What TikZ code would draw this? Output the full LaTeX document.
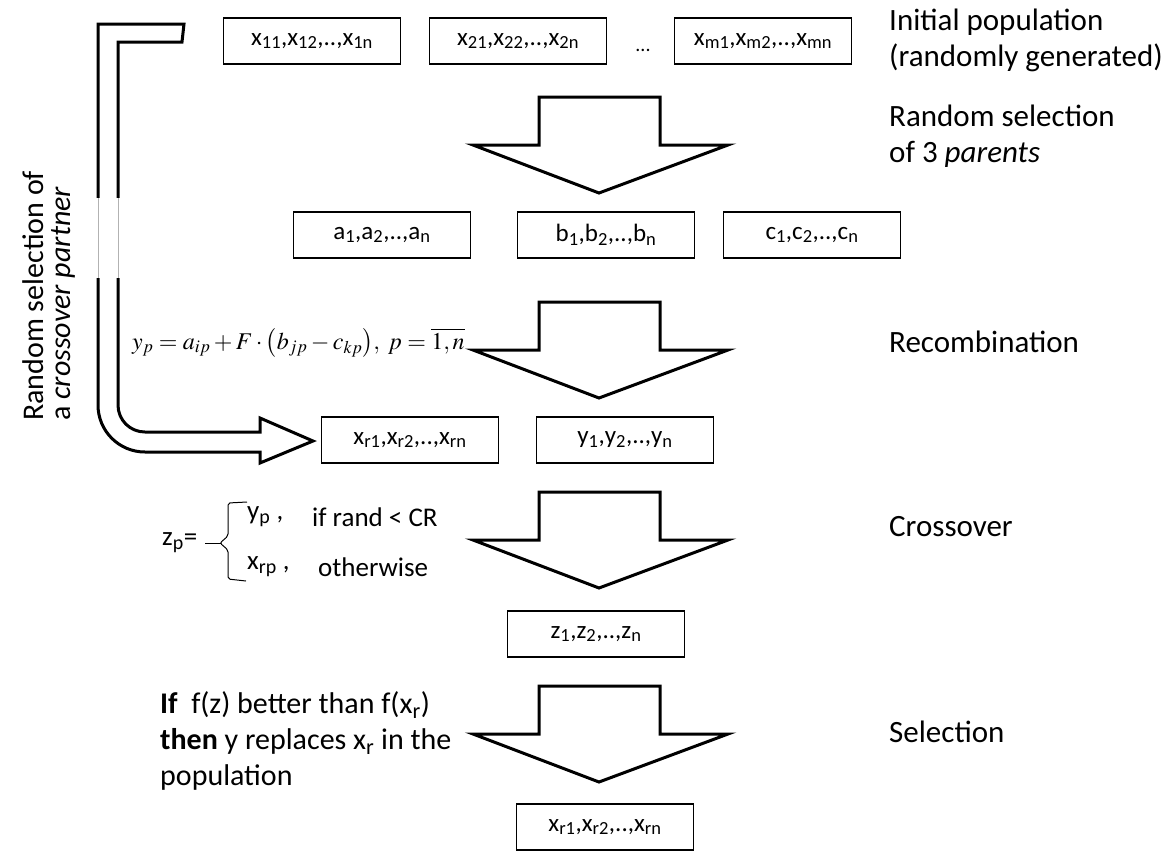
\documentclass[tikz,border=0pt]{standalone}
\usepackage{mathptmx}
\usepackage{fontspec}
\setmainfont{Carlito}
\usetikzlibrary{positioning}
\newcommand{\lo}[1]{\textsubscript{#1}}
\tikzset{
  vecbox/.style={draw, line width=1.5pt, minimum width=177pt, minimum height=46pt,
    inner sep=0pt, font=\fontsize{25}{28}\selectfont},
  steplabel/.style={anchor=west, align=left, inner sep=0pt, font=\fontsize{31}{36}\selectfont},
  sidetext/.style={anchor=west, align=left, inner sep=0pt, font=\fontsize{27}{30}\selectfont},
  bigarrow/.style={draw, line width=3pt, line join=miter, fill=white},
}

\begin{document}
\begin{tikzpicture}[x=1pt, y=-1pt]
    \useasboundingbox (0,0) rectangle (1169,852);
    % population and selected vectors
    \node[vecbox] (x1) at (312,41) {x\lo{11},x\lo{12},..,x\lo{1n}};
    \node[vecbox] (x2) at (518,41) {x\lo{21},x\lo{22},..,x\lo{2n}};
    \node[font=\fontsize{20}{22}\selectfont] (dots) at (643,50) {...};
    \node[vecbox] (xm) at (763,41) {x\lo{m1},x\lo{m2},..,x\lo{mn}};
    \node[vecbox] (a) at (382,235) {a\lo{1},a\lo{2},..,a\lo{n}};
    \node[vecbox] (b) at (606,235) {b\lo{1},b\lo{2},..,b\lo{n}};
    \node[vecbox] (c) at (812,235) {c\lo{1},c\lo{2},..,c\lo{n}};
    \node[vecbox] (xr) at (410,440) {x\lo{r1},x\lo{r2},..,x\lo{rn}};
    \node[vecbox] (y) at (625,440) {y\lo{1},y\lo{2},..,y\lo{n}};
    \node[vecbox] (z) at (596,634) {z\lo{1},z\lo{2},..,z\lo{n}};
    \node[vecbox] (xnew) at (605,827) {x\lo{r1},x\lo{r2},..,x\lo{rn}};

    % block arrows between the stages
    \foreach \t in {97,302,492,686}
        \draw[bigarrow] (539,\t) -- (660,\t) -- (660,\t+48) -- (728,\t+48)
            -- (599,\t+96) -- (473,\t+48) -- (539,\t+48) -- cycle;

    % crossover partner arrow
    \draw[line width=3pt, line join=miter] (184,24) -- (98,24) -- (98,405)
        .. controls (98,431) and (119,452) .. (145,452) -- (260,452) -- (260,463)
        -- (313,441) -- (260,418) -- (260,432) -- (145,432)
        .. controls (130,432) and (118,420) .. (118,405) -- (118,42) -- (182,42) -- cycle;
    \fill[white] (96,198) rectangle (121,278);
    \draw[gray!60, line width=0.8pt] (98.5,198) -- (98.5,278) (118.5,198) -- (118.5,278);

    % step names
    \node[steplabel] (init) at (889,40) {Initial population\\(randomly generated)};
    \node[steplabel] (rsel) at (889,136) {Random selection\\of 3 \textit{parents}};
    \node[steplabel] (recomb) at (889,342) {Recombination};
    \node[steplabel] (cross) at (889,527) {Crossover};
    \node[steplabel] (selec) at (889,732) {Selection};
    \node[rotate=90, anchor=north west, align=left, inner sep=0pt,
        font=\fontsize{30}{27}\selectfont] (partner) at (22,421)
        {Random selection of\\a \textit{crossover partner}};

    % formulas
    \node[anchor=west, inner sep=0pt, font=\fontsize{24}{28}\selectfont] (recf) at (132,343)
        {$y_p = a_{ip} + F\cdot\left(b_{jp} - c_{kp}\right)\!,\ p = \overline{1,n}$};
    \node[sidetext] (zp) at (162,543) {z\lo{p}=};
    \draw[line width=1pt, rounded corners=2pt] (247,502) -- (228,503) -- (228,536) -- (220,543)
        -- (228,550) -- (228,579) -- (246,581);
    \draw[line width=1pt] (205,543) -- (221,543);
    \node[sidetext] (yp) at (247,517) {y\lo{p} ,};
    \node[sidetext] (ifr) at (312,517) {if rand < CR};
    \node[sidetext] (xrp) at (247,567) {x\lo{rp} ,};
    \node[sidetext] (oth) at (318,567) {otherwise};
    \node[steplabel, font=\fontsize{30}{36}\selectfont] (rule) at (160,741)
        {\textbf{If}\ \ f(z) better than f(x\lo{r})\\\textbf{then} y replaces x\lo{r} in the\\population};
\end{tikzpicture}
\end{document}
